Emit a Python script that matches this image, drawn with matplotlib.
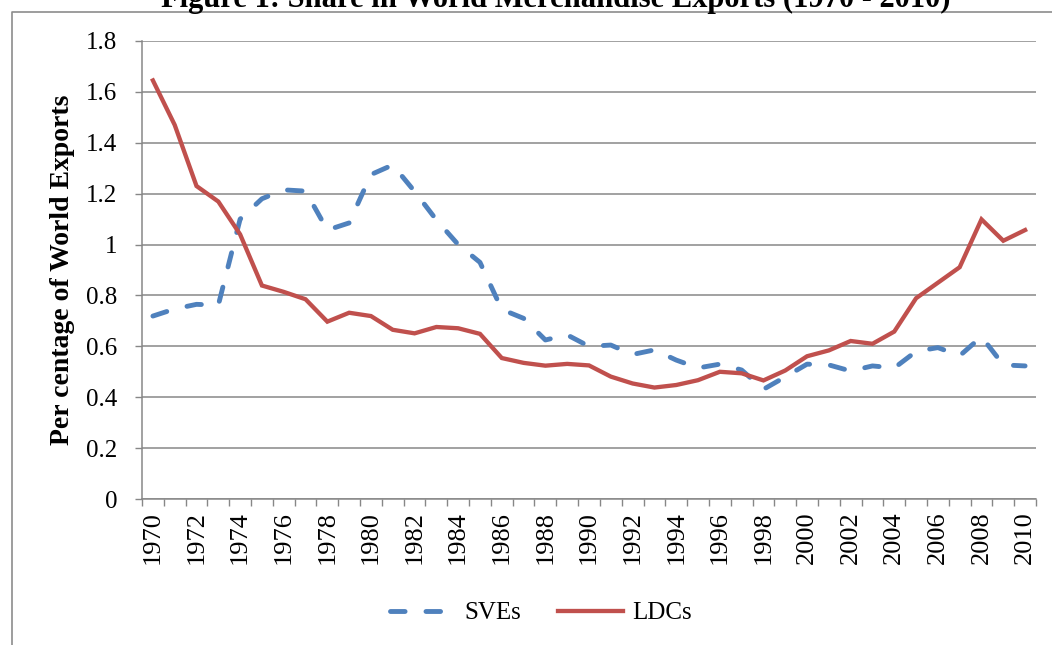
import numpy as np
import matplotlib
matplotlib.use("Agg")
import matplotlib.pyplot as plt
from matplotlib.lines import Line2D

plt.rcParams['font.family'] = ['Liberation Serif', 'DejaVu Serif']

years = list(range(1970, 2011))
sves = [0.719, 0.747, 0.765, 0.762, 1.10, 1.18, 1.215, 1.21, 1.057, 1.085,
        1.275, 1.313, 1.209, 1.097, 1.0, 0.93, 0.745, 0.71, 0.625, 0.645,
        0.60, 0.605, 0.568, 0.586, 0.546, 0.515, 0.53, 0.507, 0.431, 0.48,
        0.53, 0.527, 0.503, 0.523, 0.515, 0.58, 0.595, 0.563, 0.638, 0.527, 0.523]
ldcs = [1.645, 1.47, 1.23, 1.169, 1.04, 0.839, 0.814, 0.785, 0.697, 0.732,
        0.719, 0.665, 0.651, 0.676, 0.671, 0.649, 0.554, 0.535, 0.524, 0.531,
        0.525, 0.481, 0.454, 0.438, 0.448, 0.467, 0.50, 0.494, 0.466, 0.505,
        0.561, 0.584, 0.621, 0.61, 0.658, 0.789, 0.85, 0.911, 1.099, 1.015, 1.057]
yticks = [0, 0.2, 0.4, 0.6, 0.8, 1.0, 1.2, 1.4, 1.6, 1.8]
ytick_labels = ['0', '0.2', '0.4', '0.6', '0.8', '1', '1.2', '1.4', '1.6', '1.8']

W, H = 1052, 645
fig = plt.figure(figsize=(W / 100, H / 100), dpi=100)
ax = fig.add_axes([142 / W, 1 - 499 / H, (1036 - 142) / W, (499 - 41) / H])

grey = '#878787'
x = np.arange(len(years))
ax.plot(x, sves, color='#4F81BD', lw=3.5, linestyle=(0, (3, 4.3)),
        dash_capstyle='round', solid_capstyle='round', label='SVEs', zorder=3)
ax.plot(x, ldcs, color='#C0504D', lw=3.1, solid_joinstyle='miter',
        label='LDCs', zorder=4)

ax.set_xlim(-0.5, len(years) - 0.5)
ax.set_ylim(0, 1.8)
ax.set_yticks(yticks)
ax.set_yticklabels(ytick_labels, fontsize=18)
ax.yaxis.grid(True, color=grey, lw=1.1)
ax.set_axisbelow(True)

ax.set_xticks(x[::2])
ax.set_xticklabels([str(y) for y in years[::2]], rotation=90, fontsize=19)
ax.set_xticks(np.arange(-0.5, len(years)), minor=True)
ax.tick_params(axis='x', which='major', length=0, pad=9)
ax.tick_params(axis='x', which='minor', length=5, width=1.0, color=grey)
ax.tick_params(axis='y', length=5, width=1.0, color=grey, pad=13)

for s in ['top', 'right']:
    ax.spines[s].set_visible(False)
for s in ['left', 'bottom']:
    ax.spines[s].set_color(grey)
    ax.spines[s].set_linewidth(1.1)

fig.text(63 / W, 1 - 270 / H, 'Per centage of World Exports', rotation=90,
         ha='center', va='center', fontsize=20, fontweight='bold')
# title sits partly above the top edge, as in the cropped original
fig.text(556 / W, 1 - 7 / H, 'Figure 1: Share in World Merchandise Exports (1970 - 2010)',
         ha='center', va='baseline', fontsize=22, fontweight='bold')

leg = ax.legend(loc='center', bbox_to_anchor=(541 / W, 1 - 613 / H),
                bbox_transform=fig.transFigure, ncol=2, frameon=False,
                fontsize=18, handlelength=2.6, handletextpad=0.35,
                columnspacing=1.5)

# outer chart border (cropped at right and bottom)
fig.add_artist(Line2D([12 / W, 12 / W, 1.0], [0.0, 1 - 12 / H, 1 - 12 / H],
                      transform=fig.transFigure, color='#8c8c8c', lw=1.2))

fig.savefig('out.png', dpi=100)
